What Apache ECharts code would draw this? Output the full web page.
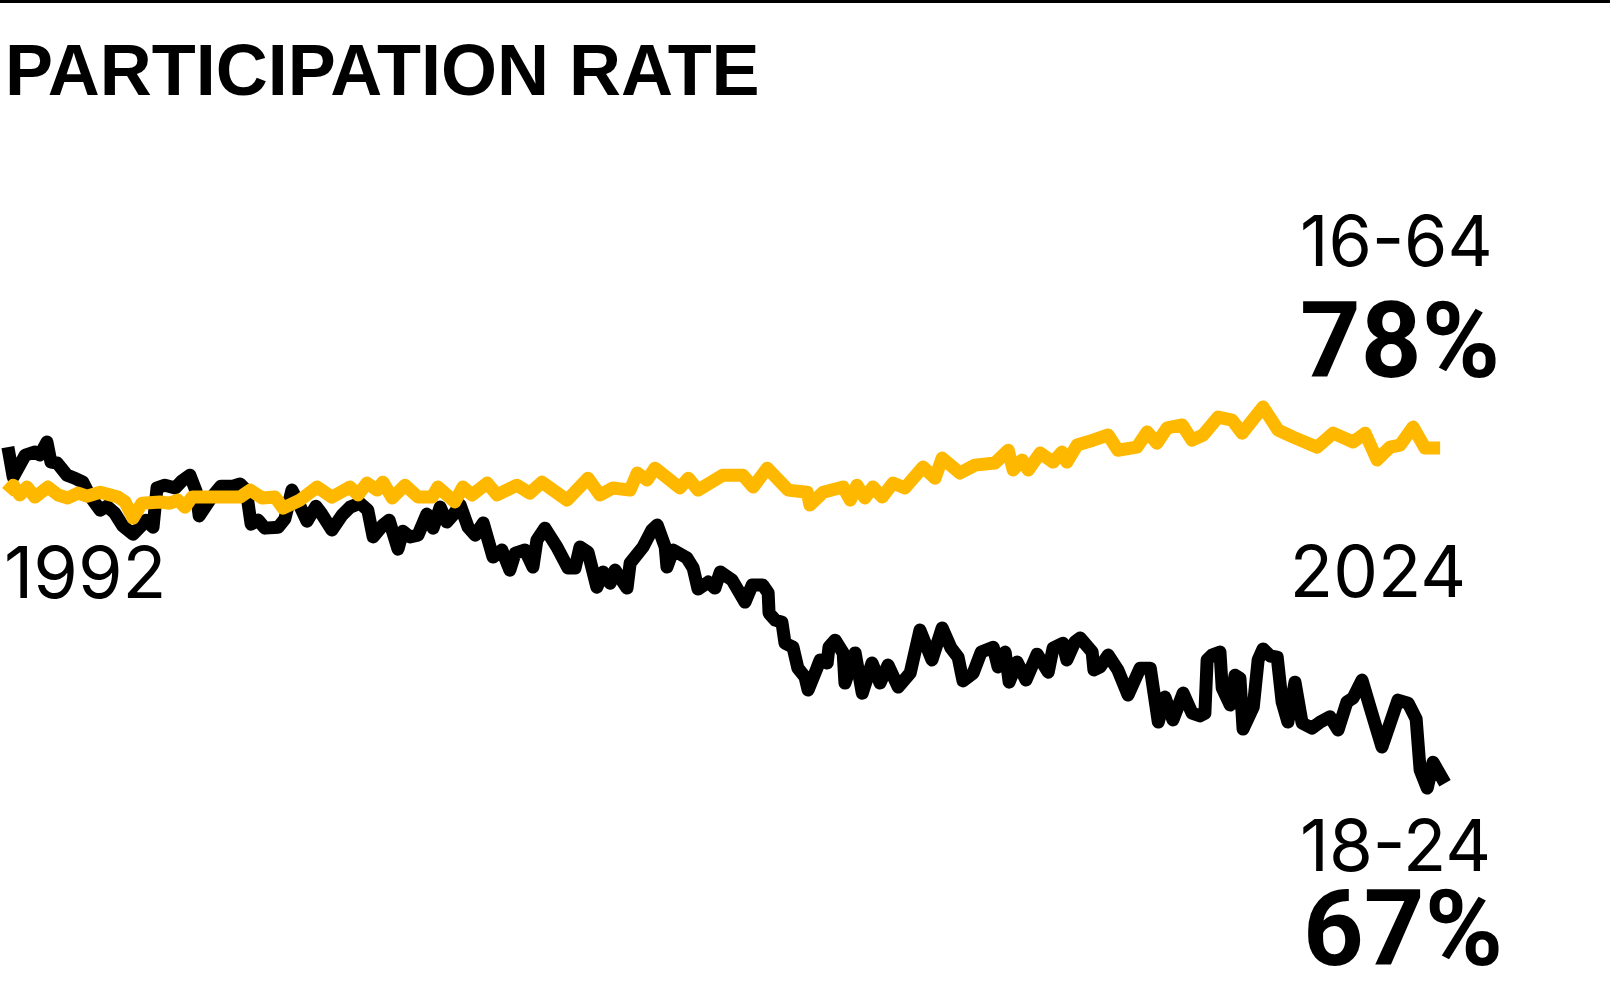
<!DOCTYPE html>
<html lang="en">

<head>
  <meta charset="UTF-8" />
  <title>Participation rate</title>
  <style>
    html, body { margin: 0; padding: 0; background: #fff; }
  </style>
</head>

<body>
  <div id="main" style="width: 1610px; height: 998px;"></div>
  <script src="https://cdn.jsdelivr.net/npm/echarts@6/dist/echarts.min.js"></script>
  <script type="text/javascript">
    // [year, participation %]
    const youngRate = [
      [1992.02, 78.03], [1992.14, 77.05], [1992.41, 77.77], [1992.63, 77.87], [1992.74, 77.77],
      [1992.90, 78.20], [1992.99, 77.54], [1993.13, 77.51], [1993.35, 77.11], [1993.53, 77.01],
      [1993.71, 76.88], [1993.87, 76.42], [1994.10, 75.96], [1994.25, 76.09], [1994.43, 75.86],
      [1994.61, 75.44], [1994.84, 75.17], [1995.02, 75.44], [1995.13, 75.63], [1995.29, 75.40],
      [1995.38, 76.69], [1995.56, 76.78], [1995.79, 76.69], [1995.94, 76.92], [1996.12, 77.11],
      [1996.26, 76.59], [1996.33, 75.77], [1996.60, 76.36], [1996.82, 76.75], [1997.09, 76.75],
      [1997.25, 76.82], [1997.39, 76.62], [1997.50, 75.50], [1997.66, 75.63], [1997.81, 75.37],
      [1998.11, 75.40], [1998.26, 75.67], [1998.42, 76.62], [1998.60, 76.09], [1998.76, 75.60],
      [1998.96, 76.09], [1999.08, 75.86], [1999.32, 75.31], [1999.55, 75.80], [1999.73, 76.06],
      [1999.95, 76.19], [2000.13, 75.96], [2000.25, 75.08], [2000.47, 75.47], [2000.61, 75.63],
      [2000.81, 74.68], [2000.92, 75.27], [2001.08, 75.08], [2001.26, 75.14], [2001.46, 75.83],
      [2001.60, 75.37], [2001.76, 76.06], [2001.91, 75.57], [2002.05, 75.80], [2002.21, 76.13],
      [2002.39, 75.40], [2002.55, 75.14], [2002.73, 75.54], [2002.95, 74.42], [2003.15, 74.65],
      [2003.33, 73.99], [2003.45, 74.55], [2003.67, 74.65], [2003.85, 74.09], [2003.94, 74.98],
      [2004.12, 75.37], [2004.39, 74.75], [2004.64, 74.06], [2004.80, 74.06], [2004.91, 74.75],
      [2005.09, 74.58], [2005.29, 73.43], [2005.43, 73.93], [2005.59, 73.56], [2005.70, 73.99],
      [2005.97, 73.40], [2006.04, 74.22], [2006.33, 74.75], [2006.53, 75.31], [2006.65, 75.47],
      [2006.83, 74.75], [2006.87, 74.09], [2007.01, 74.65], [2007.32, 74.39], [2007.46, 74.06],
      [2007.57, 73.37], [2007.80, 73.60], [2007.95, 73.40], [2008.07, 73.93], [2008.34, 73.66],
      [2008.63, 72.94], [2008.79, 73.50], [2009.03, 73.50], [2009.15, 73.24], [2009.17, 72.58],
      [2009.31, 72.35], [2009.46, 72.28], [2009.53, 71.59], [2009.71, 71.46], [2009.82, 70.77],
      [2009.98, 70.48], [2010.05, 70.05], [2010.25, 70.77], [2010.32, 71.04], [2010.48, 70.94],
      [2010.52, 71.46], [2010.66, 71.69], [2010.84, 71.27], [2010.88, 70.28], [2011.11, 71.27],
      [2011.27, 69.95], [2011.49, 70.94], [2011.67, 70.28], [2011.85, 70.87], [2012.08, 70.15],
      [2012.35, 70.61], [2012.57, 72.02], [2012.84, 71.04], [2013.07, 72.09], [2013.27, 71.43],
      [2013.43, 71.13], [2013.54, 70.35], [2013.77, 70.61], [2013.95, 71.30], [2014.22, 71.46],
      [2014.33, 70.81], [2014.49, 71.30], [2014.58, 70.31], [2014.76, 70.97], [2014.96, 70.38],
      [2015.21, 71.23], [2015.46, 70.64], [2015.57, 71.43], [2015.79, 71.59], [2015.88, 71.04],
      [2016.06, 71.63], [2016.18, 71.76], [2016.45, 71.30], [2016.49, 70.71], [2016.63, 70.81],
      [2016.81, 71.20], [2017.03, 70.71], [2017.26, 69.89], [2017.53, 70.77], [2017.76, 70.77],
      [2017.94, 69.00], [2018.09, 69.82], [2018.27, 69.07], [2018.50, 69.95], [2018.70, 69.29],
      [2018.88, 69.20], [2018.99, 69.29], [2019.04, 71.04], [2019.15, 71.20], [2019.33, 71.30],
      [2019.38, 70.12], [2019.56, 69.56], [2019.67, 70.54], [2019.78, 70.44], [2019.85, 68.77],
      [2020.08, 69.49], [2020.19, 71.04], [2020.30, 71.40], [2020.46, 71.17], [2020.62, 71.13],
      [2020.73, 69.66], [2020.86, 69.00], [2021.02, 70.31], [2021.18, 68.97], [2021.40, 68.80],
      [2021.59, 69.00], [2021.81, 69.17], [2021.99, 68.74], [2022.19, 69.66], [2022.33, 69.79],
      [2022.53, 70.38], [2022.71, 69.49], [2022.98, 68.18], [2023.34, 69.72], [2023.57, 69.62],
      [2023.75, 69.10], [2023.84, 67.42], [2024.00, 66.83], [2024.13, 67.68], [2024.40, 66.99]
    ]

    const allRate = [
      [1992.00, 76.55], [1992.14, 76.78], [1992.29, 76.46], [1992.45, 76.72], [1992.63, 76.39],
      [1992.92, 76.72], [1993.15, 76.46], [1993.37, 76.36], [1993.60, 76.52], [1993.80, 76.42],
      [1994.10, 76.55], [1994.50, 76.39], [1994.66, 76.23], [1994.84, 75.70], [1995.04, 76.19],
      [1995.45, 76.23], [1995.67, 76.19], [1995.85, 76.29], [1996.01, 76.06], [1996.17, 76.39],
      [1996.51, 76.39], [1997.25, 76.39], [1997.48, 76.62], [1997.75, 76.36], [1998.04, 76.39],
      [1998.22, 76.03], [1998.60, 76.29], [1998.99, 76.72], [1999.32, 76.39], [1999.73, 76.72],
      [1999.91, 76.46], [2000.11, 76.85], [2000.34, 76.62], [2000.47, 76.88], [2000.68, 76.36],
      [2000.97, 76.78], [2001.26, 76.39], [2001.58, 76.39], [2001.71, 76.72], [2002.09, 76.23],
      [2002.27, 76.72], [2002.48, 76.46], [2002.82, 76.85], [2003.04, 76.46], [2003.49, 76.78],
      [2003.78, 76.52], [2004.05, 76.88], [2004.62, 76.29], [2005.09, 77.01], [2005.36, 76.46],
      [2005.65, 76.69], [2006.04, 76.62], [2006.20, 77.18], [2006.42, 76.95], [2006.60, 77.34],
      [2007.16, 76.69], [2007.35, 77.01], [2007.57, 76.62], [2008.13, 77.11], [2008.58, 77.11],
      [2008.81, 76.72], [2009.13, 77.34], [2009.60, 76.62], [2010.03, 76.55], [2010.09, 76.13],
      [2010.39, 76.55], [2010.84, 76.72], [2011.00, 76.29], [2011.15, 76.78], [2011.33, 76.36],
      [2011.51, 76.72], [2011.72, 76.39], [2011.96, 76.85], [2012.23, 76.69], [2012.64, 77.38],
      [2012.91, 77.01], [2013.07, 77.67], [2013.47, 77.18], [2013.81, 77.44], [2014.26, 77.51],
      [2014.56, 77.93], [2014.67, 77.28], [2014.87, 77.61], [2015.01, 77.28], [2015.28, 77.84],
      [2015.57, 77.54], [2015.77, 77.87], [2015.88, 77.54], [2016.11, 78.10], [2016.47, 78.26],
      [2016.81, 78.43], [2017.03, 77.93], [2017.46, 78.03], [2017.69, 78.53], [2017.91, 78.16],
      [2018.14, 78.66], [2018.48, 78.76], [2018.70, 78.26], [2018.95, 78.43], [2019.29, 79.02],
      [2019.60, 78.92], [2019.83, 78.49], [2020.30, 79.35], [2020.64, 78.59], [2020.98, 78.36],
      [2021.52, 78.03], [2021.88, 78.49], [2022.33, 78.20], [2022.60, 78.49], [2022.87, 77.61],
      [2023.16, 78.03], [2023.39, 78.10], [2023.68, 78.69], [2023.95, 78.00], [2024.29, 78.00]
    ]

    const startYear = '1992'
    const endYear = '2024'
    const allLabel = '16-64'
    const allLatest = '78%'
    const youngLabel = '18-24'
    const youngLatest = '67%'

    const numFont = 'Inter, "Liberation Sans", sans-serif'
    const bigFont = 'Roboto, Inter, sans-serif'

    var myChart = echarts.init(document.getElementById('main'))

    var option = {
      animation: false,
      backgroundColor: '#fff',
      grid: { left: 7, right: 165, top: 235, bottom: 2 },
      xAxis: { type: 'value', min: 1992, max: 2024.4, show: false },
      yAxis: { type: 'value', min: 60, max: 85, show: false },
      series: [
        {
          name: youngLabel,
          type: 'line',
          data: youngRate,
          showSymbol: false,
          lineStyle: { color: '#000', width: 13, join: 'round', cap: 'butt' }
        },
        {
          name: allLabel,
          type: 'line',
          data: allRate,
          showSymbol: false,
          lineStyle: { color: '#ffb800', width: 13, join: 'round', cap: 'butt' }
        }
      ],
      graphic: [
        // top rule
        { type: 'rect', shape: { x: 0, y: 0, width: 1610, height: 3 }, style: { fill: '#000' } },
        {
          type: 'text', x: 5, y: 75,
          style: { text: 'PARTICIPATION RATE', font: 'bold 72px "Liberation Sans Narrow", "Arial Narrow", sans-serif', fill: '#000', verticalAlign: 'middle' }
        },
        {
          type: 'text', x: 1300, y: 245,
          style: { text: allLabel, font: '70px ' + numFont, fill: '#000', verticalAlign: 'middle' }
        },
        {
          type: 'text', x: 1300, y: 350,
          style: { text: allLatest, font: 'bold 106px ' + bigFont, fill: '#000', verticalAlign: 'middle' }
        },
        {
          type: 'text', x: 4, y: 576,
          style: { text: startYear, font: '72px ' + numFont, fill: '#000', verticalAlign: 'middle' }
        },
        {
          type: 'text', x: 1466, y: 576,
          style: { text: endYear, font: '71px ' + numFont, fill: '#000', verticalAlign: 'middle', align: 'right' }
        },
        {
          type: 'text', x: 1300, y: 850,
          style: { text: youngLabel, font: '71px ' + numFont, fill: '#000', verticalAlign: 'middle' }
        },
        {
          type: 'text', x: 1303, y: 938,
          style: { text: youngLatest, font: 'bold 106px ' + bigFont, fill: '#000', verticalAlign: 'middle' }
        }
      ]
    }

    myChart.setOption(option)
  </script>
</body>

</html>
